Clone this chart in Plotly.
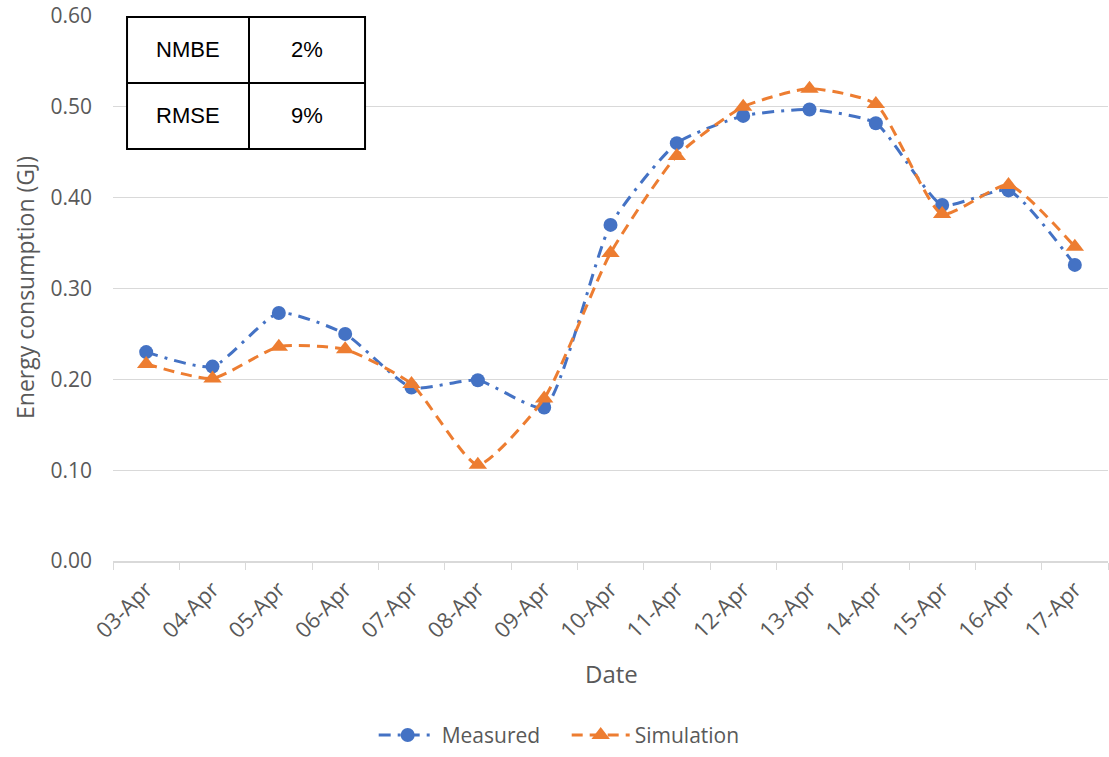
import plotly.graph_objects as go

dates = ["03-Apr", "04-Apr", "05-Apr", "06-Apr", "07-Apr", "08-Apr", "09-Apr", "10-Apr",
         "11-Apr", "12-Apr", "13-Apr", "14-Apr", "15-Apr", "16-Apr", "17-Apr"]
measured = [0.230, 0.214, 0.273, 0.250, 0.191, 0.199, 0.169, 0.370,
            0.460, 0.490, 0.497, 0.482, 0.392, 0.408, 0.326]
simulation = [0.217, 0.201, 0.236, 0.233, 0.195, 0.106, 0.179, 0.339,
              0.446, 0.500, 0.520, 0.503, 0.382, 0.414, 0.346]
stat_names = ["NMBE", "RMSE"]
stat_values = ["2%", "9%"]

BLUE = "#4472C4"
ORANGE = "#ED7D31"
FONT = "Open Sans"
GREY = "#595959"

fig = go.Figure()
fig.add_trace(go.Scatter(
    x=dates, y=measured, name="Measured", mode="lines+markers",
    line=dict(color=BLUE, width=3, dash="12px,7px,3px,7px", shape="spline", smoothing=0.55),
    marker=dict(symbol="circle", size=14, color=BLUE),
))
fig.add_trace(go.Scatter(
    x=dates, y=simulation, name="Simulation", mode="lines+markers",
    line=dict(color=ORANGE, width=3, dash="11px,7px", shape="spline", smoothing=0.55),
    marker=dict(symbol="triangle-up", size=16, color=ORANGE),
))

# table in the top-left corner
x0, x1, xm = 0.0141, 0.2533, 0.1367
y0, y1, ym = 0.4536, 0.599, 0.5263
fig.add_shape(type="rect", xref="paper", yref="y", x0=x0, x1=x1, y0=y0, y1=y1,
              line=dict(color="black", width=2), fillcolor="white", layer="above")
fig.add_shape(type="line", xref="paper", yref="y", x0=xm, x1=xm, y0=y0, y1=y1,
              line=dict(color="black", width=2), layer="above")
fig.add_shape(type="line", xref="paper", yref="y", x0=x0, x1=x1, y0=ym, y1=ym,
              line=dict(color="black", width=2), layer="above")
row_centers = [(ym + y1) / 2, (y0 + ym) / 2]
for name, val, yc in zip(stat_names, stat_values, row_centers):
    fig.add_annotation(x=(x0 + xm) / 2, y=yc, xref="paper", yref="y", text=name,
                       xanchor="center", yanchor="middle",
                       showarrow=False, font=dict(family="Liberation Sans", size=22, color="black"))
    fig.add_annotation(x=(xm + x1) / 2, y=yc, xref="paper", yref="y", text=val,
                       xanchor="center", yanchor="middle",
                       showarrow=False, font=dict(family="Liberation Sans", size=22, color="black"))

# axis titles
fig.add_annotation(x=0.5015, y=-0.2058, xref="paper", yref="paper", text="Date",
                   xanchor="center", yanchor="middle", showarrow=False,
                   font=dict(size=24, color=GREY))
fig.add_annotation(x=-0.0884, y=0.501, xref="paper", yref="paper", text="Energy consumption (GJ)",
                   xanchor="center", yanchor="middle", showarrow=False, textangle=-90,
                   font=dict(size=23, color=GREY))

fig.update_layout(
    width=1109, height=757,
    margin=dict(l=113, r=1, t=16, b=192),
    paper_bgcolor="white", plot_bgcolor="white",
    font=dict(family=FONT, color=GREY, size=18),
    showlegend=True,
    legend=dict(orientation="h", x=0.262, xanchor="left", y=-0.32, yanchor="middle",
                font=dict(size=21, color=GREY), itemwidth=58,
                entrywidth=120, entrywidthmode="pixels"),
    xaxis=dict(
        type="category", range=[-0.5, 14.5], tickson="boundaries", automargin=False,
        ticks="outside", ticklen=7, tickcolor="#d9d9d9",
        showline=True, linecolor="#d9d9d9", linewidth=1.5,
        showgrid=False, tickangle=-45, tickfont=dict(size=22, color=GREY),
        ticklabelstandoff=5,
    ),
    yaxis=dict(
        range=[0, 0.6], dtick=0.1, tickformat=".2f", automargin=False,
        showgrid=True, gridcolor="#d9d9d9", gridwidth=1.2, zeroline=False,
        showline=False, ticks="", tickfont=dict(size=21, color=GREY),
        ticklabelstandoff=20,
    ),
)

# remove the default 8px page margin so the figure sits at the window origin
fig.write_html("out.html", config={"displayModeBar": False},
               post_script="document.body.style.margin='0px';")
